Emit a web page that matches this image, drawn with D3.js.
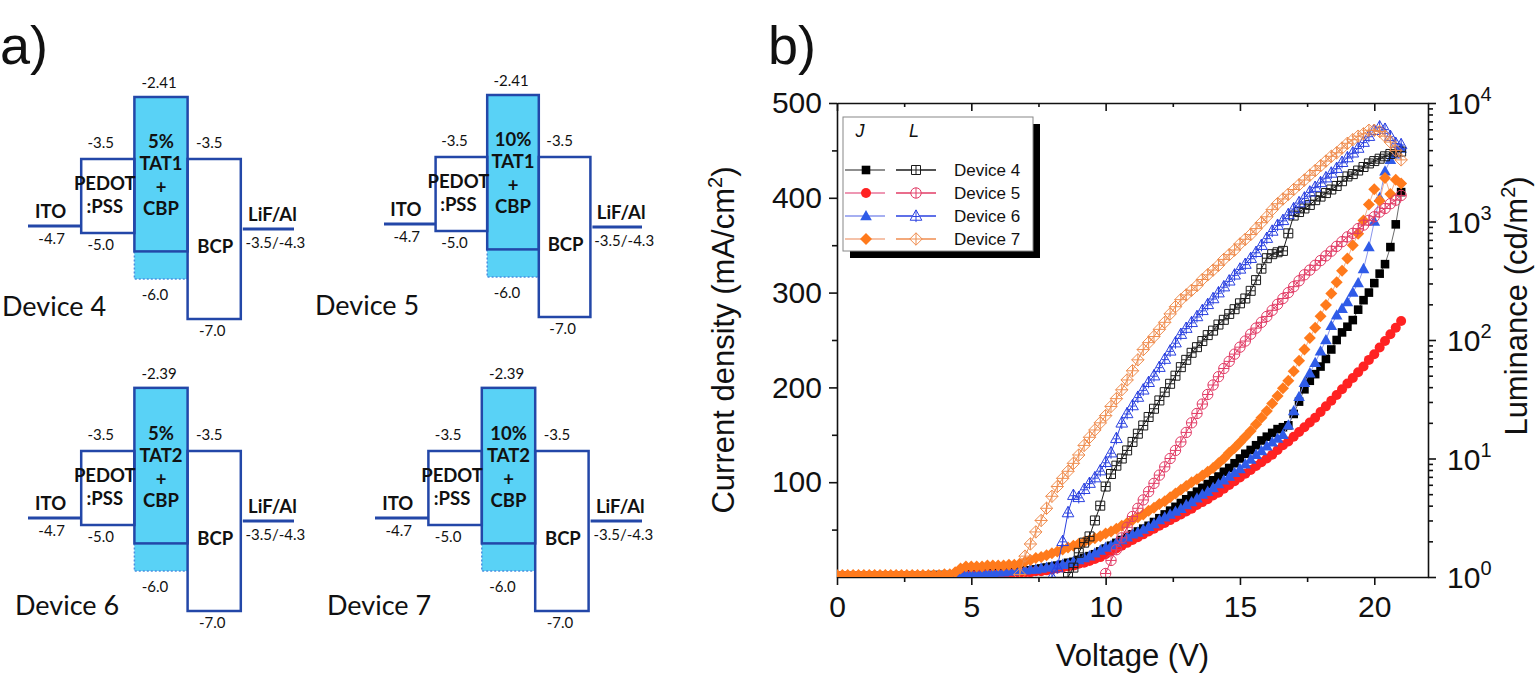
<!DOCTYPE html>
<html>
<head>
<meta charset="utf-8">
<title>Energy levels and J-V-L of devices 4-7</title>
<script src="https://d3js.org/d3.v7.min.js"></script>
<style>
  body { margin: 0; background: #fff; }
  svg { display: block; }
  .diag text { font-family: Lato, "Open Sans", sans-serif; fill: #111; }
  .plot text { font-family: "Liberation Sans", Arial, sans-serif; fill: #111; }
</style>
</head>
<body>
<svg id="fig" width="1536" height="678"></svg>
<script>
// ---------------- panel a : energy level sketches ----------------
const devices = ["Device 4", "Device 5", "Device 6", "Device 7"];
const dopantPct = ["5%", "10%", "5%", "10%"];
const emitters = ["TAT1", "TAT1", "TAT2", "TAT2"];
const emlLumo = [-2.41, -2.41, -2.39, -2.39];
const layers = ["ITO", "PEDOT", "EML", "BCP", "LiF/Al"];
const pedotLevels = [-3.5, -5.0];
const bcpLevels = [-3.5, -7.0];
const cbpHomo = -6.0;
const emitterHomo = -5.4;              // unlabeled solid line inside the EML
const electrodeLevels = [-4.86, -4.92]; // where the ITO and LiF/Al lines sit in the sketch
const itoLabel = "-4.7";
const cathodeLabel = "-3.5/-4.3";

// ---------------- panel b : J-V-L ----------------
const volts = [0,0.2,0.4,0.6,0.8,1,1.2,1.4,1.6,1.8,2,2.2,2.4,2.6,2.8,3,3.2,3.4,3.6,3.8,
  4,4.2,4.4,4.6,4.8,5,5.2,5.4,5.6,5.8,6,6.2,6.4,6.6,6.8,7,7.2,7.4,7.6,7.8,
  8,8.2,8.4,8.6,8.8,9,9.2,9.4,9.6,9.8,10,10.2,10.4,10.6,10.8,11,11.2,11.4,11.6,11.8,
  12,12.2,12.4,12.6,12.8,13,13.2,13.4,13.6,13.8,14,14.2,14.4,14.6,14.8,15,15.2,15.4,15.6,15.8,
  16,16.2,16.4,16.6,16.8,17,17.2,17.4,17.6,17.8,18,18.2,18.4,18.6,18.8,19,19.2,19.4,19.6,19.8,
  20,20.2,20.4,20.6,20.8,21];

// current density, mA/cm2
const jDev4 = [1,1,1,1,1, 1,1,1,1,1, 1,1,1,1,1, 1,1,1,2,2, 2,2,2,3,3, 3,3,4,4,4,
  5,5,5,6,6, 7,7,8,9,10, 11,12,13,15,16, 18,20,22,24,27, 30,33,36,39,42, 45,48,51,54,58,
  62,66,70,74,78, 82,86,90,94,98, 102,106,111,115,120, 125,130,134,139,144,
  148,152,156,158,160, 172,185,198,207,214, 222,230,240,250,258, 264,271,282,292,300,
  310,320,330,348,372, 406];
const jDev5 = [1,1,1,1,1, 1,1,1,1,1, 1,1,1,1,1, 1,1,1,1,1, 1,1,2,2,2, 2,2,3,3,3,
  3,3,4,4,4, 5,5,6,6,7, 8,9,10,11,12, 14,15,17,19,21, 24,27,30,33,36, 39,42,45,48,51,
  54,57,60,63,66, 69,72,76,79,82, 86,89,93,97,101, 105,109,113,117,121,
  125,129,134,139,143, 148,153,158,163,168, 174,180,186,192,198, 204,210,216,222,229,
  235,242,249,256,263, 270];
const jDev6 = [1,1,1,1,1, 1,1,1,1,1, 1,1,1,1,1, 1,1,1,1,1, 1,2,2,2,3, 3,3,4,4,4,
  5,5,6,6,7, 7,8,8,9,10, 11,12,13,14,16, 18,20,22,25,28, 31,33,36,39,42, 45,47,50,53,56,
  60,63,66,69,72, 76,79,83,87,90, 94,98,102,106,110, 114,119,124,129,133,
  138,142,146,150,160, 175,190,205,215,226, 238,250,265,276,283, 290,300,310,325,348,
  375,400,428,440,446, 452];
const jDev7 = [2,2,2,2,2, 2,2,2,2,2, 2,2,2,2,2, 2,2,2,2,2, 3,3,5,9,11, 11,11,11,12,12,
  12,12,13,13,14, 16,18,20,21,23, 25,27,29,31,33, 35,37,39,41,43, 46,48,51,54,57, 60,63,66,70,73,
  77,80,84,88,92, 96,100,103,107,111, 115,120,125,131,136, 142,148,154,161,168,
  175,183,191,199,207, 217,228,240,252,263, 275,287,299,311,323, 336,350,362,376,393,
  409,397,421,404,419, 415];

// luminance, cd/m2 (first visible point at lumFrom volts)
const lumFrom = [8.6, 10, 8, 6.8];
const lumDev4 = [1.0,1.2, 1.6,1.95,2.2,3.0,4.0, 5.8,7.4,8.7,10,11.7, 13.8,16.2,19,22.4,26.3,
  30.9,36.3,42.7,50,59, 68,78,87,98,110, 120,135,148,166,182, 204,224,260,320,400,
  490,530,550,565,794, 1122,1202,1288,1380,1514, 1622,1738,1862,1995,2188,
  2399,2512,2692,2884,3090, 3236,3388,3548,3715,3890, 3890];
const lumDev5 = [1.07,1.38,1.7,2.14,2.63, 3.24,3.8,4.47,5.25,6.17, 7.24,8.5,10,11.7,13.8,
  16.6,20,24,28.8,34.7, 41.7,49,57.5,66,76, 87,98,112,126,141, 158,178,200,224,251,
  282,316,355,389,427, 468,513,562,617,676, 741,794,871,933,1023, 1096,1202,1288,1413,1514, 1660];
const lumDev6 = [1.0,1.2,2.0,3.5,4.9, 4.7,5.5,6.2,6.9,7.9, 9.3,11.2,14.8,20,24, 28,33,38,44,50,
  59,69,81,95,112, 126,141,158,178,200, 224,251,282,316,355, 398,437,490,550,631,
  724,832,933,1023,1148, 1288,1445,1585,1778,1950, 2138,2344,2570,2818,3162,
  3467,3802,4169,4677,5248, 5888,6310,6026,5248,4571, 4467];
const lumDev7 = [1.05, 1.5,1.9,2.4,3.0,3.8, 4.8,5.8,6.8,7.8,9.1, 10.7,12.9,15.1,17.4,20,
  23,27.5,32,38,46, 55,68,83,95,107, 123,141,166,191,219, 240,263,288,324,355,
  389,427,479,525,575, 646,708,776,871,977, 1096,1259,1413,1549,1698,
  1862,2042,2239,2455,2692, 2951,3236,3548,3802,4169, 4571,4898,5248,5495,5888,
  5888,5754,5248,4677,3981, 3311];

const xTicks = [0, 5, 10, 15, 20];
const xMinor = [2.5, 7.5, 12.5, 17.5];
const jTicks = [100, 200, 300, 400, 500];
const jMinor = [50, 150, 250, 350, 450];
const lumTicks = [1, 10, 100, 1000, 10000];
const legendNames = ["Device 4", "Device 5", "Device 6", "Device 7"];

// ---------------------------------------------------------------
const svg = d3.select("#fig");
const lineBlue = "#2347a8", cyan = "#59d2f6", dotBlue = "#4a8fe0";

const gA = svg.append("g").attr("class", "diag");
gA.append("text").attr("x", 0).attr("y", 64)
  .style("font-family", "'Liberation Sans', Arial").style("font-size", "54px").text("a)");

// sketch is not to scale: piecewise energy axis, 0 = the -3.5 eV level
const eY = d3.scaleLinear().domain([-2.41, -3.5, -5.0, -6.0, -7.0]).range([-62, 0, 74, 120, 160]);
const devPos = [
  {x: 28, y: 159, w: 266, lx: 2, ly: 316},
  {x: 384, y: 157, w: 258, lx: 315, ly: 315},
  {x: 28, y: 451, w: 266, lx: 15, ly: 615},
  {x: 375, y: 451, w: 267, lx: 327, ly: 615}
];

function txt(g, x, y, s, size, bold) {
  return g.append("text").attr("x", x).attr("y", y).attr("text-anchor", "middle")
    .style("font-size", size + "px").style("font-weight", bold ? 700 : 400).text(s);
}

devices.forEach((name, i) => {
  const p = devPos[i];
  const g = gA.append("g").attr("transform", `translate(${p.x},${p.y})`);
  const bx = d3.scaleBand().domain(layers).range([0, p.w]);
  const bw = bx.bandwidth();
  const cx = l => bx(l) + bw / 2;

  // lower EML part down to CBP HOMO
  g.append("rect").attr("x", bx("EML")).attr("y", eY(emitterHomo))
    .attr("width", bw).attr("height", eY(cbpHomo) - eY(emitterHomo)).attr("fill", cyan);
  g.append("path")
    .attr("d", `M${bx("EML")},${eY(emitterHomo)}V${eY(cbpHomo)}H${bx("EML") + bw}`)
    .attr("fill", "none").attr("stroke", dotBlue).attr("stroke-width", 1.5).attr("stroke-dasharray", "2,2");
  // EML box
  g.append("rect").attr("x", bx("EML")).attr("y", eY(emlLumo[i]))
    .attr("width", bw).attr("height", eY(emitterHomo) - eY(emlLumo[i]))
    .attr("fill", cyan).attr("stroke", lineBlue).attr("stroke-width", 2.5);
  // PEDOT and BCP boxes
  g.append("rect").attr("x", bx("PEDOT")).attr("y", eY(pedotLevels[0]))
    .attr("width", bw).attr("height", eY(pedotLevels[1]) - eY(pedotLevels[0]))
    .attr("fill", "none").attr("stroke", lineBlue).attr("stroke-width", 2.5);
  g.append("rect").attr("x", bx("BCP")).attr("y", eY(bcpLevels[0]))
    .attr("width", bw).attr("height", eY(bcpLevels[1]) - eY(bcpLevels[0]))
    .attr("fill", "none").attr("stroke", lineBlue).attr("stroke-width", 2.5);
  // electrodes
  g.append("line").attr("x1", bx("ITO")).attr("x2", bx("ITO") + bw)
    .attr("y1", eY(electrodeLevels[0])).attr("y2", eY(electrodeLevels[0]))
    .attr("stroke", lineBlue).attr("stroke-width", 3);
  g.append("line").attr("x1", bx("LiF/Al") + 2).attr("x2", bx("LiF/Al") + bw)
    .attr("y1", eY(electrodeLevels[1])).attr("y2", eY(electrodeLevels[1]))
    .attr("stroke", lineBlue).attr("stroke-width", 3);

  // numbers
  txt(g, cx("EML") - 2, eY(emlLumo[i]) - 9, String(emlLumo[i]), 15);
  txt(g, cx("PEDOT") - 7, eY(pedotLevels[0]) - 11, pedotLevels[0].toFixed(1), 15);
  txt(g, cx("PEDOT") - 7, eY(pedotLevels[1]) + 17, pedotLevels[1].toFixed(1), 15);
  txt(g, cx("BCP") - 5, eY(bcpLevels[0]) - 11, bcpLevels[0].toFixed(1), 15);
  txt(g, cx("BCP") - 2, eY(bcpLevels[1]) + 17, bcpLevels[1].toFixed(1), 15);
  txt(g, cx("EML") - 6, eY(cbpHomo) + 21, cbpHomo.toFixed(1), 15);
  txt(g, cx("ITO") - 3, eY(electrodeLevels[0]) + 18, itoLabel, 15);
  txt(g, cx("LiF/Al") + 8, eY(electrodeLevels[1]) + 19, cathodeLabel, 15);

  // layer names
  txt(g, cx("ITO") - 4, eY(electrodeLevels[0]) - 8, "ITO", 18.5, true);
  txt(g, cx("LiF/Al") + 5, eY(electrodeLevels[1]) - 8, "LiF/Al", 18.5, true);
  txt(g, cx("PEDOT") - 3, 31, "PEDOT", 18.5, true);
  txt(g, cx("PEDOT") - 3, 54, ":PSS", 18.5, true);
  txt(g, cx("EML"), -11, dopantPct[i], 18.5, true);
  txt(g, cx("EML"), 11, emitters[i], 18.5, true);
  txt(g, cx("EML"), 35, "+", 18.5, true);
  txt(g, cx("EML"), 56, "CBP", 18.5, true);
  txt(g, cx("BCP") + 1, 94, "BCP", 18.5, true);

  gA.append("text").attr("x", p.lx).attr("y", p.ly).style("font-size", "27px").text(name);
});

// ---------------- panel b ----------------
const gB = svg.append("g").attr("class", "plot");
gB.append("text").attr("x", 768).attr("y", 64).style("font-size", "54px").text("b)");

const x = d3.scaleLinear().domain([0, 22]).range([837, 1428]);
const yJ = d3.scaleLinear().domain([0, 500]).range([577, 103]);
const yL = d3.scaleLog().domain([1, 1e4]).range([577, 103]);

gB.append("clipPath").attr("id", "clipB").append("rect")
  .attr("x", x(0)).attr("y", yJ(500)).attr("width", x(22) - x(0)).attr("height", yJ(0) - yJ(500));

function styleAxis(sel) {
  sel.selectAll("path, line").attr("stroke", "#111").attr("stroke-width", 1.6);
  sel.selectAll("text").style("font-size", "30px").attr("fill", "#111");
}
function noDomain(sel) { sel.select(".domain").remove(); }

gB.append("g").attr("transform", `translate(0,${yJ(0)})`)
  .call(d3.axisBottom(x).tickValues(xTicks).tickSize(8).tickSizeOuter(0).tickPadding(11)).call(styleAxis);
gB.append("g").attr("transform", `translate(0,${yJ(0)})`)
  .call(d3.axisBottom(x).tickValues(xMinor).tickSize(5).tickFormat("")).call(noDomain).call(styleAxis);
gB.append("g").attr("transform", `translate(0,${yJ(500)})`)
  .call(d3.axisBottom(x).tickValues(xTicks).tickSize(8).tickSizeOuter(0).tickFormat("")).call(styleAxis);
gB.append("g").attr("transform", `translate(0,${yJ(500)})`)
  .call(d3.axisBottom(x).tickValues(xMinor).tickSize(4).tickFormat("")).call(noDomain).call(styleAxis);
gB.append("g").attr("transform", `translate(${x(0)},0)`)
  .call(d3.axisLeft(yJ).tickValues(jTicks).tickSize(8).tickSizeOuter(0).tickPadding(7)).call(styleAxis);
gB.append("g").attr("transform", `translate(${x(0)},0)`)
  .call(d3.axisLeft(yJ).tickValues(jMinor).tickSize(5).tickFormat("")).call(noDomain).call(styleAxis);
gB.append("g").attr("transform", `translate(${x(22)},0)`)
  .call(d3.axisRight(yL).tickValues(lumTicks).tickSize(8).tickSizeOuter(0).tickFormat("")).call(styleAxis);
gB.append("g").attr("transform", `translate(${x(22)},0)`)
  .call(d3.axisRight(yL).tickValues(yL.ticks().filter(v => !lumTicks.includes(v))).tickSize(5).tickFormat(""))
  .call(noDomain).call(styleAxis);

// right tick labels 10^n
lumTicks.forEach(v => {
  const t = gB.append("text").attr("x", x(22) + 19).attr("y", yL(v) + 11).style("font-size", "30px");
  t.append("tspan").text("10");
  t.append("tspan").attr("dy", -13).style("font-size", "20px").text(String(Math.round(Math.log10(v))));
});

// axis titles
gB.append("text").attr("x", (x(0) + x(22)) / 2).attr("y", 666).attr("text-anchor", "middle")
  .style("font-size", "31px").text("Voltage (V)");
const tL = gB.append("text").attr("transform", "translate(734,340) rotate(-90)")
  .attr("text-anchor", "middle").style("font-size", "31px");
tL.append("tspan").text("Current density (mA/cm");
tL.append("tspan").attr("dy", -12).style("font-size", "20px").text("2");
tL.append("tspan").attr("dy", 12).text(")");
const tR = gB.append("text").attr("transform", "translate(1527,306) rotate(-90)")
  .attr("text-anchor", "middle").style("font-size", "31px");
tR.append("tspan").text("Luminance (cd/m");
tR.append("tspan").attr("dy", -12).style("font-size", "20px").text("2");
tR.append("tspan").attr("dy", 12).text(")");

// markers
function markerPath(shape, r, cross) {
  let d;
  if (shape === "square") d = `M${-r},${-r}H${r}V${r}H${-r}Z`;
  else if (shape === "circle") d = `M${r},0A${r},${r},0,1,1,${-r},0A${r},${r},0,1,1,${r},0Z`;
  else if (shape === "triangle") d = `M0,${-r * 1.15}L${r * 1.1},${r * 0.8}H${-r * 1.1}Z`;
  else d = `M0,${-r}L${r},0L0,${r}L${-r},0Z`;
  if (cross) {
    if (shape === "triangle") d += `M0,${-r * 1.15}V${r * 1.15}M${-r * 0.6},${r * 0.1}H${r * 0.6}`;
    else d += `M${-r},0H${r}M0,${-r}V${r}`;
  }
  return d;
}

const series = [
  {J: jDev4, L: lumDev4, from: lumFrom[0], shape: "square", jr: 4.3, lr: 4.5,
   jFill: "#000", jLine: "#6a6a6a", lCol: "#1a1a1a"},
  {J: jDev5, L: lumDev5, from: lumFrom[1], shape: "circle", jr: 5, lr: 5.2,
   jFill: "#ff2222", jLine: "#e8759a", lCol: "#e23c66"},
  {J: jDev6, L: lumDev6, from: lumFrom[2], shape: "triangle", jr: 5.3, lr: 5.3,
   jFill: "#2f5be8", jLine: "#8894ec", lCol: "#2a40e0"},
  {J: jDev7, L: lumDev7, from: lumFrom[3], shape: "diamond", jr: 6, lr: 6.2,
   jFill: "#ff7a1c", jLine: "#f2ae8c", lCol: "#ef8d4f"}
];

const plot = gB.append("g").attr("clip-path", "url(#clipB)");

series.forEach(s => {
  const pts = volts.map((v, i) => [v, s.J[i]]);
  plot.append("path").datum(pts)
    .attr("d", d3.line().x(d => x(d[0])).y(d => yJ(d[1])))
    .attr("fill", "none").attr("stroke", s.jLine).attr("stroke-width", 1);
  plot.append("g").selectAll("path").data(pts).join("path")
    .attr("transform", d => `translate(${x(d[0])},${yJ(d[1])})`)
    .attr("d", markerPath(s.shape, s.jr, false)).attr("fill", s.jFill);
});

series.forEach(s => {
  const start = volts.indexOf(s.from);
  const pts = s.L.map((l, i) => [volts[start + i], l]);
  plot.append("path").datum(pts)
    .attr("d", d3.line().x(d => x(d[0])).y(d => yL(d[1])))
    .attr("fill", "none").attr("stroke", s.lCol).attr("stroke-width", 1);
  plot.append("g").selectAll("path").data(pts).join("path")
    .attr("transform", d => `translate(${x(d[0])},${yL(d[1])})`)
    .attr("d", markerPath(s.shape, s.lr, true))
    .attr("fill", "none").attr("stroke", s.lCol).attr("stroke-width", 1);
});

// legend
const lg = gB.append("g");
lg.append("rect").attr("x", 850).attr("y", 124).attr("width", 190).attr("height", 134).attr("fill", "#000");
lg.append("rect").attr("x", 843).attr("y", 117).attr("width", 190).attr("height", 134)
  .attr("fill", "#fff").attr("stroke", "#888").attr("stroke-width", 1);
lg.append("text").attr("x", 860).attr("y", 137).attr("text-anchor", "middle")
  .style("font-size", "18px").style("font-style", "italic").text("J");
lg.append("text").attr("x", 914).attr("y", 137).attr("text-anchor", "middle")
  .style("font-size", "18px").style("font-style", "italic").text("L");
const rowY = d3.scaleLinear().domain([0, 3]).range([170, 239]);
series.forEach((s, i) => {
  const y = rowY(i);
  lg.append("line").attr("x1", 845).attr("x2", 885).attr("y1", y).attr("y2", y)
    .attr("stroke", s.jLine).attr("stroke-width", 1.5);
  lg.append("path").attr("transform", `translate(866,${y})`)
    .attr("d", markerPath(s.shape, s.jr, false)).attr("fill", s.jFill);
  lg.append("line").attr("x1", 896).attr("x2", 936).attr("y1", y).attr("y2", y)
    .attr("stroke", s.lCol).attr("stroke-width", 1.5);
  lg.append("path").attr("transform", `translate(916,${y})`)
    .attr("d", markerPath(s.shape, s.lr, true)).attr("fill", "#fff").attr("stroke", s.lCol).attr("stroke-width", 1);
  lg.append("text").attr("x", 954).attr("y", y + 6).style("font-size", "17px").text(legendNames[i]);
});
</script>
</body>
</html>
